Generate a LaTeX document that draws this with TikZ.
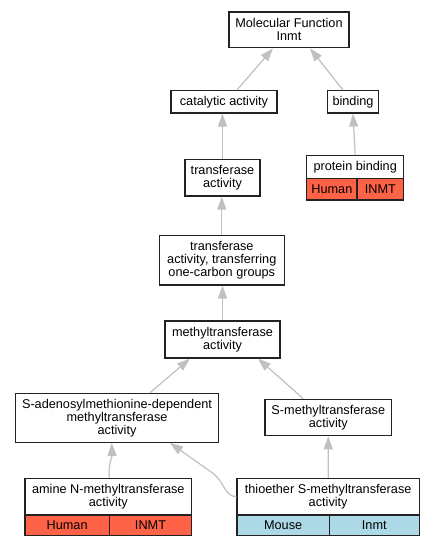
\documentclass[tikz,border=0pt]{standalone}
\usepackage{fontspec}
\setmainfont{Liberation Sans}
\usetikzlibrary{arrows.meta}
\definecolor{edgegray}{HTML}{C0C0C0}
\definecolor{tomatored}{HTML}{FF6347}
\definecolor{lblue}{HTML}{ADD8E6}
\definecolor{bordercol}{HTML}{222222}
\begin{document}
\begin{tikzpicture}[x=1pt,y=-1pt,
  every node/.style={font=\fontsize{12.7}{13}\selectfont},
  box/.style={draw=bordercol, line width=1.2pt, fill=white, rectangle, inner sep=0pt, align=center},
  redcell/.style={box, fill=tomatored},
  bluecell/.style={box, fill=lblue},
  edge/.style={draw=edgegray, line width=1.2pt, -{Triangle[length=13pt,width=9pt,fill=edgegray]}}]
\useasboundingbox (0,0) rectangle (436,547);

% nodes
\node[box, minimum width=120pt, minimum height=35.7pt] (mf) at (289,29.9) {Molecular Function\\Inmt};
\node[box, minimum width=106pt, minimum height=22.3pt] (cat) at (224,101.8) {catalytic activity};
\node[box, minimum width=51.4pt, minimum height=22.3pt] (bind) at (353,101.8) {binding};

\node[box, minimum width=97pt, minimum height=22.6pt] (pb) at (355.2,167) {protein binding};
\node[redcell, minimum width=50.3pt, minimum height=21.7pt] (pbh) at (331.85,189.15) {Human};
\node[redcell, minimum width=46.7pt, minimum height=21.7pt] (pbg) at (380.35,189.15) {INMT};

\node[box, minimum width=75pt, minimum height=36.7pt] (ta) at (222.5,177.7) {transferase\\activity};
\node[box, minimum width=125pt, minimum height=49.3pt] (toc) at (221.8,260.3) {transferase\\activity, transferring\\one-carbon groups};
\node[box, minimum width=115pt, minimum height=37pt] (mt) at (222.5,339.5) {methyltransferase\\activity};
\node[box, minimum width=202.6pt, minimum height=49pt] (sam) at (117,417.8) {S-adenosylmethionine-dependent\\methyltransferase\\activity};
\node[box, minimum width=126.7pt, minimum height=36.4pt] (sm) at (328.3,417.5) {S-methyltransferase\\activity};

\node[box, minimum width=166.7pt, minimum height=36.7pt] (amine) at (108.3,496.7) {amine N-methyltransferase\\activity};
\node[redcell, minimum width=84.3pt, minimum height=20.7pt] (amh) at (67.15,525.35) {Human};
\node[redcell, minimum width=82.4pt, minimum height=20.7pt] (amg) at (150.5,525.35) {INMT};

\node[box, minimum width=182.3pt, minimum height=36.7pt] (thio) at (328.15,496.7) {thioether S-methyltransferase\\activity};
\node[bluecell, minimum width=92.3pt, minimum height=20.7pt] (thm) at (283.15,525.35) {Mouse};
\node[bluecell, minimum width=90pt, minimum height=20.7pt] (thg) at (374.3,525.35) {Inmt};

% edges
\draw[edge] ([xshift=13pt]cat.north) -- ([xshift=-16pt]mf.south);
\draw[edge] ([xshift=-10pt]bind.north) -- ([xshift=21pt]mf.south);
\draw[edge] (ta.north) -- (ta.north |- cat.south);
\draw[edge] (pb.north) -- (bind.south);
\draw[edge] (toc.north) -- (toc.north |- ta.south);
\draw[edge] (mt.north) -- (mt.north |- toc.south);
\draw[edge] ([xshift=33pt]sam.north) -- ([xshift=-32.5pt]mt.south);
\draw[edge] ([xshift=-25pt]sm.north) -- ([xshift=35.5pt]mt.south);
\draw[edge] ([xshift=1pt]amine.north) to[out=95,in=-88] ([xshift=-5.3pt]sam.south);
\draw[edge] (thio.west) .. controls (225,496.7) and (224,482) .. (214,474) -- ([xshift=53pt]sam.south);
\draw[edge] (thio.north) -- (sm.south);
\end{tikzpicture}
\end{document}
